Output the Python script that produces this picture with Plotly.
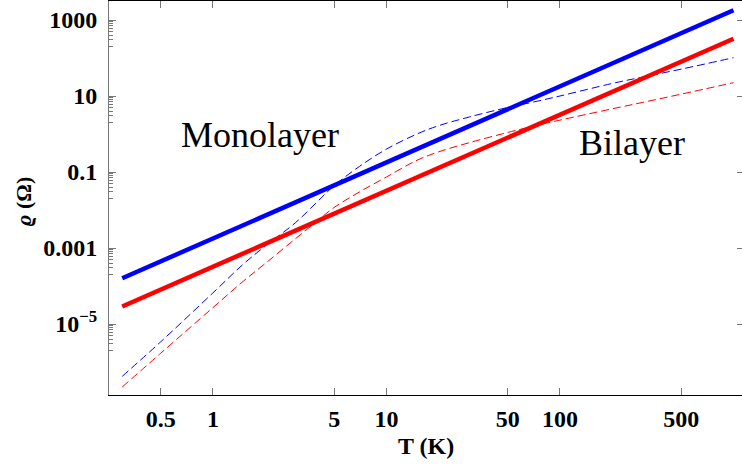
import plotly.graph_objects as go

# ---- data ----
T_solid = [0.3, 1, 10, 100, 1000]
rho_mono_solid = [1.6e-4, 1.8e-3, 0.18, 18, 1800]
rho_bi_solid = [2.9e-5, 3.2e-4, 3.2e-2, 3.2, 320]

T_dash = [0.3, 0.5, 1, 1.5, 2, 3, 4, 5, 7, 10, 15, 20, 30, 50, 70, 100, 200, 300, 500, 1000]
rho_mono_dash = [4.2e-7, 3.4e-6, 6.6e-5, 3.8e-4, 1.12e-3, 4.7e-3, 1.66e-2, 4.4e-2, 0.141, 0.40,
                 1.0, 1.66, 2.8, 5.0, 6.9, 10.0, 21.4, 31.6, 51, 102]
rho_bi_dash = [2.2e-7, 1.7e-6, 2.7e-5, 1.35e-4, 3.9e-4, 1.78e-3, 5.2e-3, 1.17e-2, 3.0e-2, 7.4e-2,
               0.204, 0.34, 0.59, 1.10, 1.60, 2.32, 4.6, 6.8, 11.2, 22.4]

x_tickvals = [0.5, 1, 5, 10, 50, 100, 500]
x_ticktext = ["0.5", "1", "5", "10", "50", "100", "500"]
y_tickvals = [1e-5, 1e-3, 1e-1, 10, 1000]
y_ticktext = ["10<sup>\u22125</sup>", "0.001", "0.1", "10", "1000"]
y_minorvals = [m * 10.0 ** k for k in (-6, -4, -2, 0, 2) for m in range(2, 10)]

labels = ["Monolayer", "Bilayer"]
SERIF = "Liberation Serif"

W, H = 742, 466
L, R, Tm, B = 109, 0, 1, 71
pw, ph = W - L - R, H - Tm - B


def px(xp):
    return (xp - L) / pw


def py(yp):
    return (H - B - yp) / ph


fig = go.Figure()
fig.add_trace(go.Scatter(x=T_dash, y=rho_mono_dash, mode="lines",
                         line=dict(color="#0000FF", width=1, dash="8px,4px", shape="spline", smoothing=1.0)))
fig.add_trace(go.Scatter(x=T_dash, y=rho_bi_dash, mode="lines",
                         line=dict(color="#FF0000", width=1, dash="8px,4px", shape="spline", smoothing=1.0)))
fig.add_trace(go.Scatter(x=T_solid, y=rho_mono_solid, mode="lines", line=dict(color="#0000FF", width=4.5)))
fig.add_trace(go.Scatter(x=T_solid, y=rho_bi_solid, mode="lines", line=dict(color="#FF0000", width=4.5)))
fig.add_trace(go.Scatter(x=[], y=[], yaxis="y2", showlegend=False, hoverinfo="skip"))

tf = dict(family=SERIF, size=24, color="black", weight="bold")
yr = [-6.868, 3.5]

ya = dict(type="log", range=yr, tickmode="array", tickvals=y_tickvals, ticktext=y_ticktext,
          ticks="inside", ticklen=7, tickcolor="#777777", tickfont=tf, automargin=False,
          ticklabelstandoff=6, showline=True, linecolor="#777777", showgrid=False, zeroline=False)
ya["minor"] = dict(tickmode="array", tickvals=y_minorvals, ticks="inside", ticklen=3.5, tickcolor="#777777")

lay = dict(width=W, height=H, margin=dict(l=L, r=R, t=Tm, b=B, pad=0),
           paper_bgcolor="white", plot_bgcolor="white", showlegend=False,
           xaxis=dict(type="log", range=[-0.599, 3.049], tickmode="array", tickvals=x_tickvals,
                      ticktext=x_ticktext, ticks="inside", ticklen=7, tickcolor="#777777", mirror="ticks",
                      showline=True, linecolor="black", showgrid=False, zeroline=False,
                      tickfont=tf, automargin=False, ticklabelstandoff=2),
           yaxis=ya, font=dict(family=SERIF, color="black"))
lay["yaxis2"] = dict(type="log", range=yr, overlaying="y", side="right", tickmode="array",
                     tickvals=y_tickvals, showticklabels=False, ticks="inside", ticklen=5,
                     tickcolor="#777777", showgrid=False, zeroline=False)
# Text positions: in-plot labels use data coordinates (log10 units), which centre automatically;
# axis titles use paper coordinates (auto anchor: centre/bottom for T, left for the rotated y title).
lay["annotations"] = [
    dict(text="T (K)", x=0.5, y=py(461), xref="paper", yref="paper", showarrow=False,
         font=dict(family=SERIF, size=24, weight="bold")),
    dict(text="<i>\u03f1</i> (\u03a9)", x=px(8), y=py(202), xref="paper", yref="paper", showarrow=False,
         textangle=-90, font=dict(family=SERIF, size=22, weight="bold")),
    dict(text=labels[0], x=0.271, y=-0.026, xref="x", yref="y", showarrow=False,
         font=dict(family=SERIF, size=36)),
    dict(text=labels[1], x=2.415, y=-0.237, xref="x", yref="y", showarrow=False,
         font=dict(family=SERIF, size=36)),
]
fig.update_layout(**lay)

fig.write_html("out.html")
